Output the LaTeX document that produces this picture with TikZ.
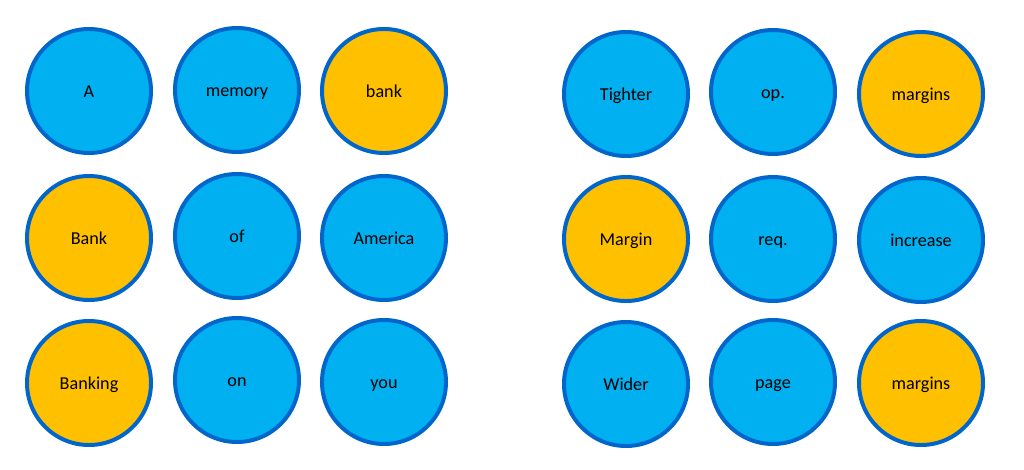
\documentclass[tikz,border=0pt]{standalone}
\usepackage{fontspec}
\setmainfont{Carlito}
\usetikzlibrary{positioning}
\usepackage{xcolor}
\definecolor{wordblue}{HTML}{00B0F0}
\definecolor{wordring}{HTML}{0066CC}
\definecolor{wordgold}{HTML}{FFC000}

\begin{document}
\begin{tikzpicture}[
    x=0.03cm, y=-0.03cm,
    word/.style={circle, draw=wordring, fill=wordblue, line width=3.4pt,
                 minimum size=3.72cm, inner sep=0pt,
                 text height=1.25em, text depth=0.12em,
                 font=\fontsize{15.5}{18}\selectfont, text=black},
    hit/.style={word, fill=wordgold}
  ]
    \useasboundingbox (0,0) rectangle (1024,469);

    % left block
    \node[word] (a)       at (89,91)   {A};
    \node[word] (memory)  at (237,90)  {memory};
    \node[hit]  (bank)    at (384,91)  {bank};

    \node[hit]  (bankc)   at (89,238)  {Bank};
    \node[word] (of)      at (237,236) {of};
    \node[word] (america) at (384,238) {America};

    \node[hit]  (banking) at (89,383)  {Banking};
    \node[word] (on)      at (237,380) {on};
    \node[word] (you)     at (384,382) {you};

    % right block
    \node[word] (tighter)  at (626,94)  {Tighter};
    \node[word] (op)       at (773,92)  {op.};
    \node[hit]  (marginsa) at (921,94)  {margins};

    \node[hit]  (margin)   at (626,239) {Margin};
    \node[word] (req)      at (773,239) {req.};
    \node[word] (increase) at (921,240) {increase};

    \node[word] (wider)    at (626,384) {Wider};
    \node[word] (page)     at (773,382) {page};
    \node[hit]  (marginsb) at (921,383) {margins};
  \end{tikzpicture}
\end{document}
